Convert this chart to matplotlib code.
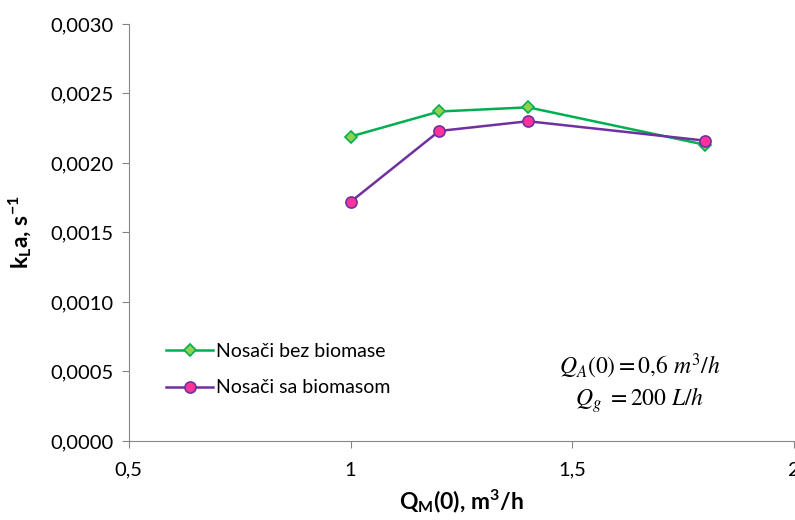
import matplotlib.pyplot as plt
from matplotlib.ticker import FuncFormatter, MultipleLocator

plt.rcParams['font.family'] = ['Lato', 'DejaVu Sans']
plt.rcParams['mathtext.fontset'] = 'custom'
plt.rcParams['mathtext.rm'] = 'Lato'
plt.rcParams['mathtext.bf'] = 'Lato:bold'
plt.rcParams['mathtext.it'] = 'Lato:italic'

# data
qm = [1.0, 1.2, 1.4, 1.8]
bez_biomase = [0.00219, 0.00237, 0.00240, 0.00213]
sa_biomasom = [0.00172, 0.00223, 0.00230, 0.00216]
labels = ['Nosači bez biomase', 'Nosači sa biomasom']

fig = plt.figure(figsize=(7.95, 5.2), dpi=100)
ax = fig.add_axes([0.162, 0.152, 0.837, 0.802])

ax.plot(qm, bez_biomase, color='#00B050', lw=1.8, marker='D', ms=6,
        mfc='#92D050', mec='#00B050', mew=1.2, label=labels[0])
ax.plot(qm, sa_biomasom, color='#7030A0', lw=1.8, marker='o', ms=8,
        mfc='#FF3399', mec='#7030A0', mew=1.2, label=labels[1])

ax.set_xlim(0.5, 2)
ax.set_ylim(0, 0.003)
ax.xaxis.set_major_locator(MultipleLocator(0.5))
ax.yaxis.set_major_locator(MultipleLocator(0.0005))
ax.xaxis.set_major_formatter(FuncFormatter(lambda v, p: ('%g' % v).replace('.', ',')))
ax.yaxis.set_major_formatter(FuncFormatter(lambda v, p: ('%.4f' % v).replace('.', ',')))

for s in ['top', 'right']:
    ax.spines[s].set_visible(False)
for s in ['left', 'bottom']:
    ax.spines[s].set_color('#868686')
ax.tick_params(colors='#868686', labelcolor='black', labelsize=14.5, length=5, direction='out')
ax.tick_params(axis='x', pad=10)
ax.tick_params(axis='y', pad=6)

ax.set_xlabel(r'Q$_\mathbf{M}$(0), m$^\mathbf{3}$/h', fontsize=16.5, fontweight='bold', labelpad=6)
ax.set_ylabel(r'k$_\mathbf{L}$a, s$^\mathbf{-1}$', fontsize=16.5, fontweight='bold', labelpad=12)

ax.legend(loc='lower left', bbox_to_anchor=(0.03, 0.065), frameon=False, fontsize=14,
          labelspacing=1.0, handlelength=2.4, handletextpad=0.15)

ax.text(0.768, 0.137, r'$Q_A(0) = 0{,}6\ m^3/h$' + '\n' + r'$Q_g\ = 200\ L/h$',
        transform=ax.transAxes, ha='center', va='center', fontsize=17,
        math_fontfamily='stix', linespacing=1.2)

fig.savefig('out.png', dpi=100)
